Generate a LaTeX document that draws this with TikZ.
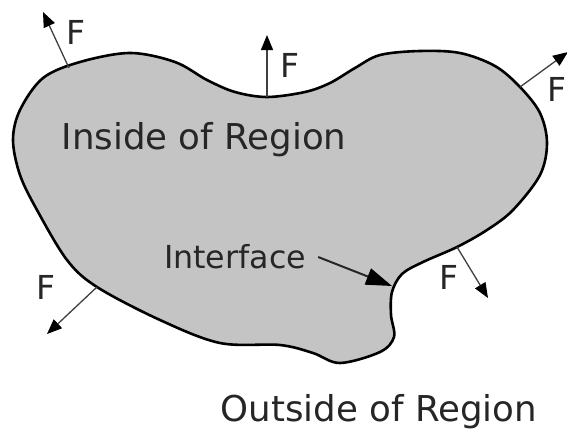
\documentclass[tikz,border=0pt]{standalone}
\usepackage{fontspec}
\setmainfont{DejaVu Sans}
\usepackage{tikz}
\usetikzlibrary{
  arrows.meta,
  calc
}

\begin{document}
\begin{tikzpicture}[
  x=1pt, y=-1pt,
  region/.style={draw=black, line width=2.6pt, fill=black!23, line join=round},
  force/.style={-{Triangle[length=15pt, width=12pt, color=black]}, line width=1.3pt, draw=black!75},
  pointer/.style={-{Triangle[length=26pt, width=17pt, color=black]}, line width=2pt, draw=black!85},
  flabel/.style={font=\fontsize{33}{33}\selectfont, text=black!85, inner sep=0pt},
  rlabel/.style={font=\fontsize{35.6}{35.6}\selectfont, text=black!85, inner sep=0pt},
]
\useasboundingbox (0,0) rectangle (567,431);

% Region
\draw[region] plot[smooth cycle, tension=0.55] coordinates {
  (13,140) (20,110) (43,78) (80,62) (130,53) (175,62) (207,80) (235,92)
  (267,97) (305,92) (330,83) (355,68) (380,55) (420,51) (460,53) (495,66)
  (520,87) (540,113) (547,143) (540,175) (513,210) (487,230) (457,247)
  (423,262) (402,274) (392,292) (391,315) (394,337) (380,352) (340,363)
  (313,353) (280,345) (220,343) (160,320) (97,287) (67,260) (37,210) (20,175)
};

% Angriffspunkte der Kraefte
\coordinate (b1) at (69,68);   \coordinate (t1) at (43,12);
\coordinate (b2) at (267,97);  \coordinate (t2) at (267,35);
\coordinate (b3) at (520,87);  \coordinate (t3) at (568,52);
\coordinate (b4) at (97,287);  \coordinate (t4) at (47,334);
\coordinate (b5) at (457,247); \coordinate (t5) at (488,298);

% Kraefte
\foreach \i in {1,...,5} {
  \draw[force] (b\i) -- (t\i);
}
\node[flabel] (f1) at (76,32) {F};
\node[flabel] (f2) at (290,65) {F};
\node[flabel] (f3) at (557,89) {F};
\node[flabel] (f4) at (46,287) {F};
\node[flabel] (f5) at (449,277) {F};

% Beschriftungen
\node[rlabel] (inside) at (204,140) {Inside of Region};
\node[rlabel] (outside) at (379,412) {Outside of Region};
\node[font=\fontsize{31.7}{31.7}\selectfont, text=black!85, inner sep=0pt] (iface) at (235,257) {Interface};
\coordinate (ifacetip) at (392,286);
\draw[pointer] ($(iface.east)+(12,0)$) -- (ifacetip);

\end{tikzpicture}
\end{document}
